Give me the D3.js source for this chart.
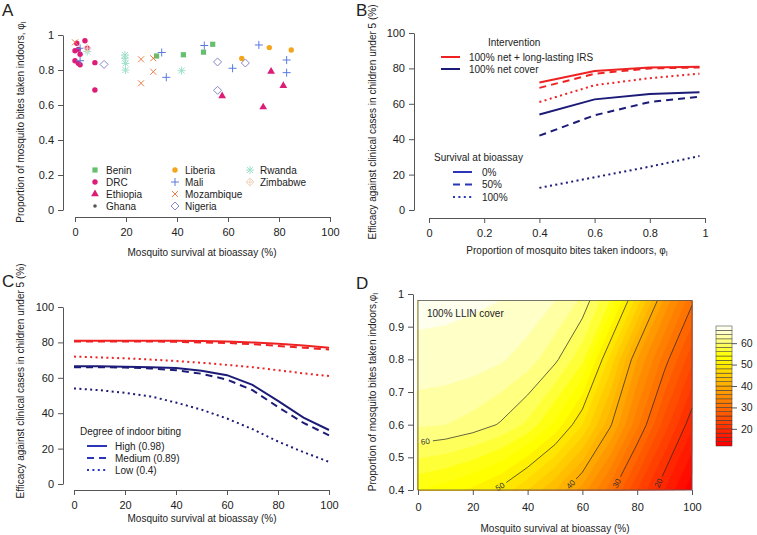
<!DOCTYPE html>
<html>
<head>
<meta charset="utf-8">
<script src="https://cdn.jsdelivr.net/npm/d3@7"></script>
<style>
  body { margin: 0; background: #fff; }
  svg { display: block; }
</style>
</head>
<body>
<script>
// ---- data --------------------------------------------------------------

// panel A: field sites
const siteCountry = [
  'Benin','Benin','Benin','Benin',
  'DRC','DRC','DRC','DRC','DRC','DRC','DRC','DRC','DRC','DRC','DRC',
  'Ethiopia','Ethiopia','Ethiopia','Ethiopia',
  'Liberia','Liberia','Liberia',
  'Mali','Mali','Mali','Mali','Mali','Mali','Mali','Mali','Mali',
  'Mozambique','Mozambique','Mozambique','Mozambique','Mozambique',
  'Nigeria','Nigeria','Nigeria','Nigeria',
  'Rwanda','Rwanda','Rwanda','Rwanda','Rwanda','Rwanda',
  'Zimbabwe'
]
const siteSurvival = [
  32, 42.5, 50.4, 54,
  0.7, 3.9, 0, 1.3, 4.8, 2, 0, 1.3, 2, 7.8, 7.8,
  57.7, 73.8, 76.9, 81.7,
  65.4, 76.2, 84.8,
  2, 2, 34, 35.8, 50.7, 61.8, 72.1, 83, 83,
  0, 25.9, 30.7, 30.7, 25.9,
  11.4, 55.9, 66.8, 55.9,
  4.8, 19.6, 19.6, 19.8, 19.8, 41.8,
  4.8
]
const siteIndoor = [
  0.88, 0.887, 0.902, 0.947,
  0.953, 0.967, 0.91, 0.918, 0.924, 0.89, 0.853, 0.838, 0.83, 0.842, 0.686,
  0.651, 0.588, 0.792, 0.71,
  0.866, 0.928, 0.914,
  0.924, 0.853, 0.90, 0.758, 0.94, 0.81, 0.943, 0.857, 0.785,
  0.958, 0.861, 0.867, 0.79, 0.724,
  0.832, 0.846, 0.84, 0.684,
  0.906, 0.886, 0.867, 0.838, 0.8, 0.796,
  0.925
]
const countries = ['Benin','DRC','Ethiopia','Ghana','Liberia','Mali','Mozambique','Nigeria','Rwanda','Zimbabwe']

// panel B: efficacy vs proportion indoors
const indoorB = [0.4, 0.6, 0.8, 0.98]
const netSurv0 = [54, 62.5, 65.5, 66.5]
const netSurv50 = [42, 53.5, 61, 64]
const netSurv100 = [12.5, 18.5, 24.5, 30.5]
const irsSurv0 = [72, 78.5, 80.5, 81]
const irsSurv50 = [69, 77, 80, 80.5]
const irsSurv100 = [61, 70.5, 74.5, 77]

// panel C: efficacy vs survival at bioassay
const survivalC = [0, 10, 20, 30, 40, 50, 60, 70, 80, 90, 100]
const netHigh = [66.5, 66.5, 66.3, 66, 65.5, 64, 61.5, 56, 47, 37.5, 30.5]
const netMedium = [66, 66, 65.8, 65.3, 64.3, 62.3, 59, 53, 43.5, 34.5, 27.5]
const netLow = [54, 53, 51.5, 49.5, 46, 42, 37, 31, 24, 18, 12.5]
const irsHigh = [81, 81, 81, 81, 81, 80.8, 80.5, 80, 79.3, 78.3, 77]
const irsMedium = [80.5, 80.5, 80.5, 80.5, 80.3, 80, 79.7, 79, 78, 77, 76]
const irsLow = [72, 71.5, 71, 70.3, 69.5, 68.5, 67.3, 66, 64.3, 62.5, 61]

// panel D: efficacy grid, 100% LLIN cover
const survivalGrid = [0, 10, 20, 30, 40, 50, 60, 70, 80, 90, 100]
const indoorGrid = [0.4, 0.6, 0.8, 0.98]
const llin040 = [54, 53, 51.5, 49.5, 46, 42, 37, 31, 24, 18, 12.5]
const llin060 = [62.3, 62, 61.2, 59.8, 57.5, 53.5, 48, 40.5, 32.5, 25, 18.5]
const llin080 = [65.5, 65.3, 65, 64.3, 63, 60.5, 56.5, 47.5, 38, 31, 24.5]
const llin098 = [66.5, 66.5, 66.3, 66, 65.5, 64, 61.5, 56, 47, 37.5, 30.5]
const fillLevels = d3.range(12, 68, 2)
const lineLevels = [20, 30, 40, 50, 60]

// ---- styles ------------------------------------------------------------

const axisCol = '#555'
const textCol = '#222'
const red = '#ee2222'
const navy = '#1c1c78'
const legendBlue = '#2b35b8'

const countryStyle = {
  Benin:      { shape: 'square',   col: '#66bf6e' },
  DRC:        { shape: 'circle',   col: '#dd1c77' },
  Ethiopia:   { shape: 'triangle', col: '#dd1c77' },
  Ghana:      { shape: 'dot',      col: '#555555' },
  Liberia:    { shape: 'circle',   col: '#f3a51d' },
  Mali:       { shape: 'plus',     col: '#5b7be0' },
  Mozambique: { shape: 'cross',    col: '#e8804a' },
  Nigeria:    { shape: 'diamond',  col: '#8a87c8' },
  Rwanda:     { shape: 'star',     col: '#9fe0c8' },
  Zimbabwe:   { shape: 'diamplus', col: '#f3d6c2' }
}

const svg = d3.select('body').append('svg')
  .attr('width', 757)
  .attr('height', 535)
  .style('font-family', "'Liberation Sans', Arial, sans-serif")

svg.append('rect').attr('width', 757).attr('height', 535).attr('fill', '#fff')

function styleAxis(g, size) {
  g.attr('font-family', null).attr('font-size', null)
  g.selectAll('path.domain').attr('stroke', axisCol)
  g.selectAll('.tick line').attr('stroke', axisCol)
  g.selectAll('.tick text').attr('fill', textCol).style('font-size', (size || 11) + 'px')
}

function text(x, y, s, opts) {
  opts = opts || {}
  const t = svg.append('text')
    .attr('x', x).attr('y', y)
    .attr('fill', textCol)
    .style('font-size', (opts.size || 10) + 'px')
    .attr('text-anchor', opts.anchor || 'start')
    .attr('dominant-baseline', 'central')
    .text(s)
  if (opts.rotate) t.attr('transform', `rotate(${opts.rotate},${x},${y})`)
  return t
}

function phiLabel(t) {
  t.append('tspan').text('\u03c6')
  t.append('tspan').attr('baseline-shift', '-3').style('font-size', '7px').text('I')
}

const fmt = d3.format('')

// ---- panel A -----------------------------------------------------------

const xA = d3.scaleLinear().domain([0, 100]).range([75, 330])
const yA = d3.scaleLinear().domain([0, 1]).range([210, 35])

styleAxis(svg.append('g').attr('transform', 'translate(0,217)')
  .call(d3.axisBottom(xA).tickValues([0, 20, 40, 60, 80, 100]).tickSize(5).tickSizeOuter(0).tickPadding(6).tickFormat(fmt)))
styleAxis(svg.append('g').attr('transform', 'translate(63,0)')
  .call(d3.axisLeft(yA).tickValues([0, 0.2, 0.4, 0.6, 0.8, 1]).tickSize(5).tickSizeOuter(0).tickPadding(4).tickFormat(fmt)))

function symbol(g, shape, col, x, y) {
  const s = g.append('g').attr('transform', `translate(${x},${y})`)
  if (shape === 'square') s.append('rect').attr('x', -2.6).attr('y', -2.6).attr('width', 5.2).attr('height', 5.2).attr('fill', col)
  else if (shape === 'circle') s.append('circle').attr('r', 2.7).attr('fill', col)
  else if (shape === 'dot') s.append('circle').attr('r', 1.8).attr('fill', col)
  else if (shape === 'triangle') s.append('path').attr('d', d3.symbol(d3.symbolTriangle).size(26)()).attr('fill', col)
  else {
    let d = ''
    if (shape === 'plus' || shape === 'star' || shape === 'diamplus') d += 'M-4,0H4M0,-4V4'
    if (shape === 'cross' || shape === 'star') d += 'M-3,-3L3,3M-3,3L3,-3'
    if (shape === 'diamond' || shape === 'diamplus') d += 'M0,-4L4,0L0,4L-4,0Z'
    s.append('path').attr('d', d).attr('fill', 'none').attr('stroke', col).attr('stroke-width', 1)
  }
}

const gA = svg.append('g')
siteCountry.forEach((c, i) => {
  const st = countryStyle[c]
  symbol(gA, st.shape, st.col, xA(siteSurvival[i]), yA(siteIndoor[i]))
})

// legend A
const legCols = [[95, 106], [175, 185], [250, 260]]
countries.forEach((c, i) => {
  const col = Math.floor(i / 4), row = i % 4
  const y = 170 + row * 12
  const st = countryStyle[c]
  symbol(gA, st.shape, st.col, legCols[col][0], y)
  text(legCols[col][1], y, c)
})

text(202, 252, 'Mosquito survival at bioassay (%)', { anchor: 'middle' })
phiLabel(text(20, 122, 'Proportion of mosquito bites taken indoors, ', { anchor: 'middle', rotate: -90 }))
text(2, 10, 'A', { size: 17 })

// ---- panel B -----------------------------------------------------------

const xB = d3.scaleLinear().domain([0, 1]).range([429, 705])
const yB = d3.scaleLinear().domain([0, 100]).range([210, 33])

styleAxis(svg.append('g').attr('transform', 'translate(0,218)')
  .call(d3.axisBottom(xB).tickValues([0, 0.2, 0.4, 0.6, 0.8, 1]).tickSize(5).tickSizeOuter(0).tickPadding(6).tickFormat(fmt)))
styleAxis(svg.append('g').attr('transform', 'translate(414,0)')
  .call(d3.axisLeft(yB).tickValues([0, 20, 40, 60, 80, 100]).tickSize(5).tickSizeOuter(0).tickPadding(4).tickFormat(fmt)))

const dashes = { solid: null, dashed: '7,5', dotted: '2,3.4' }

function series(scaleX, scaleY, xs, ys, col, dash) {
  svg.append('path')
    .datum(xs.map((x, i) => [x, ys[i]]))
    .attr('d', d3.line().x(d => scaleX(d[0])).y(d => scaleY(d[1])))
    .attr('fill', 'none')
    .attr('stroke', col)
    .attr('stroke-width', 2)
    .attr('stroke-dasharray', dashes[dash])
}

series(xB, yB, indoorB, irsSurv0, red, 'solid')
series(xB, yB, indoorB, irsSurv50, red, 'dashed')
series(xB, yB, indoorB, irsSurv100, red, 'dotted')
series(xB, yB, indoorB, netSurv0, navy, 'solid')
series(xB, yB, indoorB, netSurv50, navy, 'dashed')
series(xB, yB, indoorB, netSurv100, navy, 'dotted')

function legLine(x1, x2, y, col, dash) {
  svg.append('line').attr('x1', x1).attr('x2', x2).attr('y1', y).attr('y2', y)
    .attr('stroke', col).attr('stroke-width', 2).attr('stroke-dasharray', dashes[dash])
}

text(488, 42, 'Intervention')
legLine(441, 460, 57, red, 'solid')
text(469, 57, '100% net + long-lasting IRS')
legLine(441, 460, 69, navy, 'solid')
text(469, 69, '100% net cover')

text(434, 157, 'Survival at bioassay')
;[['0%', 'solid'], ['50%', 'dashed'], ['100%', 'dotted']].forEach((d, i) => {
  legLine(453, 472, 172 + i * 12.5, legendBlue, d[1])
  text(482, 172 + i * 12.5, d[0])
})

phiLabel(text(567, 250, 'Proportion of mosquito bites taken indoors, ', { anchor: 'middle' }))
text(372, 122, 'Efficacy against clinical cases in children under 5 (%)', { anchor: 'middle', rotate: -90 })
text(356, 10, 'B', { size: 17 })

// ---- panel C -----------------------------------------------------------

const xC = d3.scaleLinear().domain([0, 100]).range([74, 329])
const yC = d3.scaleLinear().domain([0, 100]).range([484, 307])

styleAxis(svg.append('g').attr('transform', 'translate(0,490)')
  .call(d3.axisBottom(xC).tickValues([0, 20, 40, 60, 80, 100]).tickSize(5).tickSizeOuter(0).tickPadding(6).tickFormat(fmt)))
styleAxis(svg.append('g').attr('transform', 'translate(63,0)')
  .call(d3.axisLeft(yC).tickValues([0, 20, 40, 60, 80, 100]).tickSize(5).tickSizeOuter(0).tickPadding(4).tickFormat(fmt)))

series(xC, yC, survivalC, irsHigh, red, 'solid')
series(xC, yC, survivalC, irsMedium, red, 'dashed')
series(xC, yC, survivalC, irsLow, red, 'dotted')
series(xC, yC, survivalC, netHigh, navy, 'solid')
series(xC, yC, survivalC, netMedium, navy, 'dashed')
series(xC, yC, survivalC, netLow, navy, 'dotted')

text(80, 431, 'Degree of indoor biting')
;[['High (0.98)', 'solid'], ['Medium (0.89)', 'dashed'], ['Low (0.4)', 'dotted']].forEach((d, i) => {
  legLine(87, 107, 446 + i * 12, legendBlue, d[1])
  text(115, 446 + i * 12, d[0])
})

text(202, 518, 'Mosquito survival at bioassay (%)', { anchor: 'middle' })
text(20, 381, 'Efficacy against clinical cases in children under 5 (%)', { anchor: 'middle', rotate: -90 })
text(2, 281, 'C', { size: 17 })

// ---- panel D -----------------------------------------------------------

const xD = d3.scaleLinear().domain([0, 100]).range([418, 692])
const yD = d3.scaleLinear().domain([0.4, 1]).range([490, 294])

// R heat.colors(n)
function heatColors(n) {
  const j = Math.floor(n / 4), i = n - j
  const out = []
  for (let k = 0; k < i; k++) out.push(d3.rgb(255, Math.round(255 * k / (i - 1)), 0).formatHex())
  for (let k = 0; k < j; k++) {
    const s = (1 - 1 / (2 * j)) - k * ((1 - 1 / j) / (j - 1))
    out.push(d3.rgb(255, 255, Math.round(255 * (1 - s))).formatHex())
  }
  return out
}
const heat = heatColors(fillLevels.length)

const nCol = survivalGrid.length, nRow = indoorGrid.length
const llinValues = [].concat(llin040, llin060, llin080, llin098)
const colIdx = c => Math.max(0, Math.min(nCol - 1, c - 0.5))
const rowIdx = r => Math.max(0, Math.min(nRow - 1, r - 0.5))
const colToSurv = d3.scaleLinear().domain(d3.range(nCol)).range(survivalGrid)
const rowToIndoor = d3.scaleLinear().domain(d3.range(nRow)).range(indoorGrid)
const toPx = p => [xD(colToSurv(p[0])), yD(rowToIndoor(p[1]))]

const gD = svg.append('g')
gD.append('rect')
  .attr('x', xD(0)).attr('y', yD(0.98))
  .attr('width', xD(100) - xD(0)).attr('height', yD(0.4) - yD(0.98))
  .attr('fill', heat[0])

const bands = d3.contours().size([nCol, nRow]).thresholds(fillLevels)(llinValues)
bands.forEach((b, k) => {
  const d = b.coordinates.map(poly => poly.map(ring =>
    'M' + ring.map(p => toPx([colIdx(p[0]), rowIdx(p[1])]).join(',')).join('L') + 'Z'
  ).join('')).join('')
  if (!d) return
  gD.append('path').attr('d', d).attr('fill', heat[k]).attr('fill-rule', 'evenodd')
    .attr('stroke', heat[k]).attr('stroke-width', 0.3)
})

// contour lines with labels
const onEdge = (a, b) =>
  (a[0] === 0 && b[0] === 0) || (a[0] === nCol - 1 && b[0] === nCol - 1) ||
  (a[1] === 0 && b[1] === 0) || (a[1] === nRow - 1 && b[1] === nRow - 1)

function trimLine(px, dist) {
  // drop the first `dist` pixels of a polyline
  let acc = 0
  for (let i = 0; i < px.length - 1; i++) {
    const [x0, y0] = px[i], [x1, y1] = px[i + 1]
    const seg = Math.hypot(x1 - x0, y1 - y0)
    if (acc + seg >= dist) {
      const t = (dist - acc) / seg
      return [[x0 + t * (x1 - x0), y0 + t * (y1 - y0)]].concat(px.slice(i + 1))
    }
    acc += seg
  }
  return [px[px.length - 1]]
}

const isoLines = d3.contours().size([nCol, nRow]).thresholds(lineLevels)(llinValues)
isoLines.forEach(iso => {
  iso.coordinates.forEach(poly => poly.forEach(ring => {
    const pts = ring.map(p => [colIdx(p[0]), rowIdx(p[1])])
    const n = pts.length - 1
    let k = -1
    for (let i = 0; i < n; i++) if (onEdge(pts[i], pts[i + 1])) { k = i; break }
    const lines = []
    if (k < 0) lines.push(pts)
    else {
      let cur = []
      for (let s = k + 1; s <= k + n; s++) {
        const a = pts[s % n], b = pts[(s + 1) % n]
        if (onEdge(a, b)) { if (cur.length > 1) lines.push(cur); cur = [] }
        else { if (!cur.length) cur.push(a); cur.push(b) }
      }
      if (cur.length > 1) lines.push(cur)
    }
    lines.forEach(line => {
      let l = line
      const first = l[0], last = l[l.length - 1]
      const labelAt = p => p[1] === 0 || p[0] === 0
      let labelled = false
      if (!labelAt(first) && labelAt(last)) l = l.slice().reverse()
      if (labelAt(l[0])) labelled = true
      let px = l.map(toPx)
      if (labelled) {
        const cut = trimLine(px, 15)
        const mid = trimLine(px, 7.5)[0]
        const dir = cut[0]
        let ang = Math.atan2(dir[1] - px[0][1], dir[0] - px[0][0]) * 180 / Math.PI
        if (ang > 90) ang -= 180
        if (ang < -90) ang += 180
        gD.append('text')
          .attr('x', mid[0]).attr('y', mid[1])
          .attr('text-anchor', 'middle').attr('dominant-baseline', 'central')
          .attr('transform', `rotate(${ang},${mid[0]},${mid[1]})`)
          .style('font-size', '8px').attr('fill', '#333')
          .text(iso.value)
        px = cut
      }
      gD.append('path')
        .attr('d', d3.line()(px))
        .attr('fill', 'none').attr('stroke', '#222').attr('stroke-width', 0.7)
    })
  }))
})

gD.append('rect')
  .attr('x', xD(0)).attr('y', yD(0.98))
  .attr('width', xD(100) - xD(0)).attr('height', yD(0.4) - yD(0.98))
  .attr('fill', 'none').attr('stroke', axisCol).attr('stroke-width', 0.8)

styleAxis(svg.append('g').attr('transform', 'translate(413,0)')
  .call(d3.axisLeft(yD).tickValues([0.4, 0.5, 0.6, 0.7, 0.8, 0.9, 1]).tickSize(5).tickSizeOuter(0).tickPadding(4).tickFormat(fmt)))
const axD = svg.append('g').attr('transform', 'translate(0,490)')
  .call(d3.axisBottom(xD).tickValues([0, 20, 40, 60, 80, 100]).tickSize(5).tickSizeOuter(0).tickPadding(8).tickFormat(fmt))
axD.select('path.domain').remove()
styleAxis(axD)

text(427, 313, '100% LLIN cover')

// colour key
const yKey = d3.scaleLinear().domain([12, 68]).range([446, 326])
const gKey = svg.append('g')
fillLevels.forEach((lv, k) => {
  gKey.append('rect')
    .attr('x', 716).attr('y', yKey(lv + 2))
    .attr('width', 16).attr('height', yKey(lv) - yKey(lv + 2))
    .attr('fill', heat[k]).attr('stroke', '#333').attr('stroke-width', 0.5)
})
styleAxis(svg.append('g').attr('transform', 'translate(732,0)')
  .call(d3.axisRight(yKey).tickValues([20, 30, 40, 50, 60]).tickSize(5).tickSizeOuter(0).tickPadding(4).tickFormat(fmt))
  .call(g => g.select('path.domain').remove()), 10.5)

text(555, 528, 'Mosquito survival at bioassay (%)', { anchor: 'middle' })
phiLabel(text(372, 392, 'Proportion of mosquito bites taken indoors,', { anchor: 'middle', rotate: -90 }))
text(356, 283, 'D', { size: 17 })
</script>
</body>
</html>
